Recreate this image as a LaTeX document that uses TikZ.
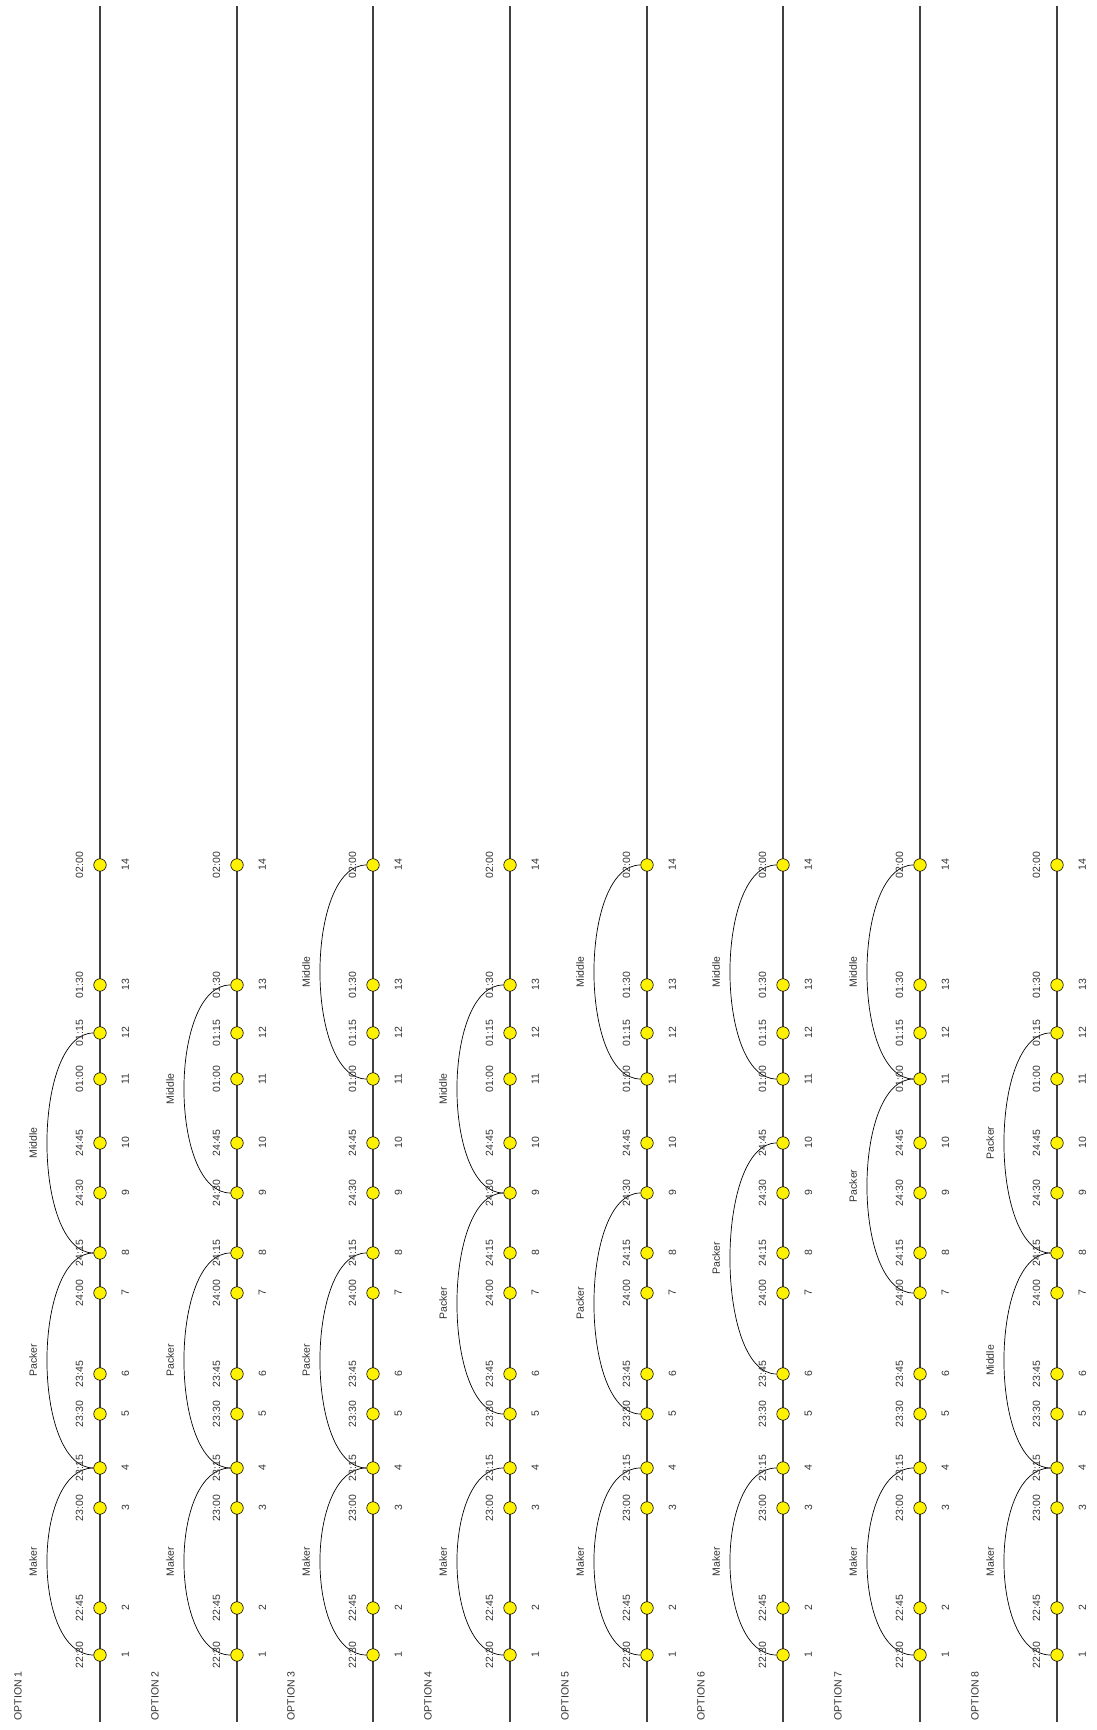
\documentclass[tikz,border=0pt]{standalone}
\usepackage{fontspec}
\setmainfont{Liberation Sans}
\usepackage{tikz}
\pgfdeclarelayer{edgelayer}
\pgfdeclarelayer{nodelayer}
\pgfsetlayers{edgelayer,nodelayer,main}
\tikzstyle{timeline}=[draw=black!75, line width=1.6pt]
\tikzstyle{taskedge}=[draw=black, line width=0.7pt, out=180, in=180, distance=62pt]
\tikzstyle{vertex}=[circle, fill=yellow, draw=black, line width=0.6pt, inner sep=0pt, minimum size=12.5pt]
\tikzstyle{timelabel}=[inner sep=0pt, label distance=10pt, font=\fontsize{10.5}{12}\selectfont, text=black!80]
\tikzstyle{numlabel}=[inner sep=0pt, label distance=15pt, font=\fontsize{10.5}{12}\selectfont, text=black!80]
\tikzstyle{tasklabel}=[rotate=90, inner sep=0pt, font=\fontsize{10.5}{12}\selectfont, text=black!80]
\tikzstyle{optionlabel}=[rotate=90, inner sep=0pt, font=\fontsize{10.5}{12}\selectfont, text=black!80]
\tikzstyle{v1}=[style=vertex, label={[style=timelabel]180:{\rotatebox{90}{22:30}}}, label={[style=numlabel]0:{\rotatebox{90}{1}}}]
\tikzstyle{v2}=[style=vertex, label={[style=timelabel]180:{\rotatebox{90}{22:45}}}, label={[style=numlabel]0:{\rotatebox{90}{2}}}]
\tikzstyle{v3}=[style=vertex, label={[style=timelabel]180:{\rotatebox{90}{23:00}}}, label={[style=numlabel]0:{\rotatebox{90}{3}}}]
\tikzstyle{v4}=[style=vertex, label={[style=timelabel]180:{\rotatebox{90}{23:15}}}, label={[style=numlabel]0:{\rotatebox{90}{4}}}]
\tikzstyle{v5}=[style=vertex, label={[style=timelabel]180:{\rotatebox{90}{23:30}}}, label={[style=numlabel]0:{\rotatebox{90}{5}}}]
\tikzstyle{v6}=[style=vertex, label={[style=timelabel]180:{\rotatebox{90}{23:45}}}, label={[style=numlabel]0:{\rotatebox{90}{6}}}]
\tikzstyle{v7}=[style=vertex, label={[style=timelabel]180:{\rotatebox{90}{24:00}}}, label={[style=numlabel]0:{\rotatebox{90}{7}}}]
\tikzstyle{v8}=[style=vertex, label={[style=timelabel]180:{\rotatebox{90}{24:15}}}, label={[style=numlabel]0:{\rotatebox{90}{8}}}]
\tikzstyle{v9}=[style=vertex, label={[style=timelabel]180:{\rotatebox{90}{24:30}}}, label={[style=numlabel]0:{\rotatebox{90}{9}}}]
\tikzstyle{v10}=[style=vertex, label={[style=timelabel]180:{\rotatebox{90}{24:45}}}, label={[style=numlabel]0:{\rotatebox{90}{10}}}]
\tikzstyle{v11}=[style=vertex, label={[style=timelabel]180:{\rotatebox{90}{01:00}}}, label={[style=numlabel]0:{\rotatebox{90}{11}}}]
\tikzstyle{v12}=[style=vertex, label={[style=timelabel]180:{\rotatebox{90}{01:15}}}, label={[style=numlabel]0:{\rotatebox{90}{12}}}]
\tikzstyle{v13}=[style=vertex, label={[style=timelabel]180:{\rotatebox{90}{01:30}}}, label={[style=numlabel]0:{\rotatebox{90}{13}}}]
\tikzstyle{v14}=[style=vertex, label={[style=timelabel]180:{\rotatebox{90}{02:00}}}, label={[style=numlabel]0:{\rotatebox{90}{14}}}]

\begin{document}
\begin{tikzpicture}[x=1pt, y=1pt]
	\useasboundingbox (0, 0) rectangle (1096, 1730);
	\begin{pgfonlayer}{nodelayer}
		% option 1
		\node [style=optionlabel] (opt1) at (18, 34) {OPTION 1};
		\node [style=v1] (1-1) at (100, 75) {};
		\node [style=v2] (1-2) at (100, 122) {};
		\node [style=v3] (1-3) at (100, 222) {};
		\node [style=v4] (1-4) at (100, 262) {};
		\node [style=v5] (1-5) at (100, 316) {};
		\node [style=v6] (1-6) at (100, 356) {};
		\node [style=v7] (1-7) at (100, 437) {};
		\node [style=v8] (1-8) at (100, 477) {};
		\node [style=v9] (1-9) at (100, 537) {};
		\node [style=v10] (1-10) at (100, 587) {};
		\node [style=v11] (1-11) at (100, 651) {};
		\node [style=v12] (1-12) at (100, 697) {};
		\node [style=v13] (1-13) at (100, 745) {};
		\node [style=v14] (1-14) at (100, 865) {};
		\node [style=tasklabel] (maker1) at (33, 168.5) {Maker};
		\node [style=tasklabel] (packer1) at (33, 369.5) {Packer};
		\node [style=tasklabel] (middle1) at (33, 587) {Middle};
		% option 2
		\node [style=optionlabel] (opt2) at (155, 34) {OPTION 2};
		\node [style=v1] (2-1) at (237, 75) {};
		\node [style=v2] (2-2) at (237, 122) {};
		\node [style=v3] (2-3) at (237, 222) {};
		\node [style=v4] (2-4) at (237, 262) {};
		\node [style=v5] (2-5) at (237, 316) {};
		\node [style=v6] (2-6) at (237, 356) {};
		\node [style=v7] (2-7) at (237, 437) {};
		\node [style=v8] (2-8) at (237, 477) {};
		\node [style=v9] (2-9) at (237, 537) {};
		\node [style=v10] (2-10) at (237, 587) {};
		\node [style=v11] (2-11) at (237, 651) {};
		\node [style=v12] (2-12) at (237, 697) {};
		\node [style=v13] (2-13) at (237, 745) {};
		\node [style=v14] (2-14) at (237, 865) {};
		\node [style=tasklabel] (maker2) at (170, 168.5) {Maker};
		\node [style=tasklabel] (packer2) at (170, 369.5) {Packer};
		\node [style=tasklabel] (middle2) at (170, 641) {Middle};
		% option 3
		\node [style=optionlabel] (opt3) at (291, 34) {OPTION 3};
		\node [style=v1] (3-1) at (373, 75) {};
		\node [style=v2] (3-2) at (373, 122) {};
		\node [style=v3] (3-3) at (373, 222) {};
		\node [style=v4] (3-4) at (373, 262) {};
		\node [style=v5] (3-5) at (373, 316) {};
		\node [style=v6] (3-6) at (373, 356) {};
		\node [style=v7] (3-7) at (373, 437) {};
		\node [style=v8] (3-8) at (373, 477) {};
		\node [style=v9] (3-9) at (373, 537) {};
		\node [style=v10] (3-10) at (373, 587) {};
		\node [style=v11] (3-11) at (373, 651) {};
		\node [style=v12] (3-12) at (373, 697) {};
		\node [style=v13] (3-13) at (373, 745) {};
		\node [style=v14] (3-14) at (373, 865) {};
		\node [style=tasklabel] (maker3) at (306, 168.5) {Maker};
		\node [style=tasklabel] (packer3) at (306, 369.5) {Packer};
		\node [style=tasklabel] (middle3) at (306, 758) {Middle};
		% option 4
		\node [style=optionlabel] (opt4) at (428, 34) {OPTION 4};
		\node [style=v1] (4-1) at (510, 75) {};
		\node [style=v2] (4-2) at (510, 122) {};
		\node [style=v3] (4-3) at (510, 222) {};
		\node [style=v4] (4-4) at (510, 262) {};
		\node [style=v5] (4-5) at (510, 316) {};
		\node [style=v6] (4-6) at (510, 356) {};
		\node [style=v7] (4-7) at (510, 437) {};
		\node [style=v8] (4-8) at (510, 477) {};
		\node [style=v9] (4-9) at (510, 537) {};
		\node [style=v10] (4-10) at (510, 587) {};
		\node [style=v11] (4-11) at (510, 651) {};
		\node [style=v12] (4-12) at (510, 697) {};
		\node [style=v13] (4-13) at (510, 745) {};
		\node [style=v14] (4-14) at (510, 865) {};
		\node [style=tasklabel] (maker4) at (443, 168.5) {Maker};
		\node [style=tasklabel] (packer4) at (443, 426.5) {Packer};
		\node [style=tasklabel] (middle4) at (443, 641) {Middle};
		% option 5
		\node [style=optionlabel] (opt5) at (565, 34) {OPTION 5};
		\node [style=v1] (5-1) at (647, 75) {};
		\node [style=v2] (5-2) at (647, 122) {};
		\node [style=v3] (5-3) at (647, 222) {};
		\node [style=v4] (5-4) at (647, 262) {};
		\node [style=v5] (5-5) at (647, 316) {};
		\node [style=v6] (5-6) at (647, 356) {};
		\node [style=v7] (5-7) at (647, 437) {};
		\node [style=v8] (5-8) at (647, 477) {};
		\node [style=v9] (5-9) at (647, 537) {};
		\node [style=v10] (5-10) at (647, 587) {};
		\node [style=v11] (5-11) at (647, 651) {};
		\node [style=v12] (5-12) at (647, 697) {};
		\node [style=v13] (5-13) at (647, 745) {};
		\node [style=v14] (5-14) at (647, 865) {};
		\node [style=tasklabel] (maker5) at (580, 168.5) {Maker};
		\node [style=tasklabel] (packer5) at (580, 426.5) {Packer};
		\node [style=tasklabel] (middle5) at (580, 758) {Middle};
		% option 6
		\node [style=optionlabel] (opt6) at (701, 34) {OPTION 6};
		\node [style=v1] (6-1) at (783, 75) {};
		\node [style=v2] (6-2) at (783, 122) {};
		\node [style=v3] (6-3) at (783, 222) {};
		\node [style=v4] (6-4) at (783, 262) {};
		\node [style=v5] (6-5) at (783, 316) {};
		\node [style=v6] (6-6) at (783, 356) {};
		\node [style=v7] (6-7) at (783, 437) {};
		\node [style=v8] (6-8) at (783, 477) {};
		\node [style=v9] (6-9) at (783, 537) {};
		\node [style=v10] (6-10) at (783, 587) {};
		\node [style=v11] (6-11) at (783, 651) {};
		\node [style=v12] (6-12) at (783, 697) {};
		\node [style=v13] (6-13) at (783, 745) {};
		\node [style=v14] (6-14) at (783, 865) {};
		\node [style=tasklabel] (maker6) at (716, 168.5) {Maker};
		\node [style=tasklabel] (packer6) at (716, 471.5) {Packer};
		\node [style=tasklabel] (middle6) at (716, 758) {Middle};
		% option 7
		\node [style=optionlabel] (opt7) at (838, 34) {OPTION 7};
		\node [style=v1] (7-1) at (920, 75) {};
		\node [style=v2] (7-2) at (920, 122) {};
		\node [style=v3] (7-3) at (920, 222) {};
		\node [style=v4] (7-4) at (920, 262) {};
		\node [style=v5] (7-5) at (920, 316) {};
		\node [style=v6] (7-6) at (920, 356) {};
		\node [style=v7] (7-7) at (920, 437) {};
		\node [style=v8] (7-8) at (920, 477) {};
		\node [style=v9] (7-9) at (920, 537) {};
		\node [style=v10] (7-10) at (920, 587) {};
		\node [style=v11] (7-11) at (920, 651) {};
		\node [style=v12] (7-12) at (920, 697) {};
		\node [style=v13] (7-13) at (920, 745) {};
		\node [style=v14] (7-14) at (920, 865) {};
		\node [style=tasklabel] (maker7) at (853, 168.5) {Maker};
		\node [style=tasklabel] (packer7) at (853, 544) {Packer};
		\node [style=tasklabel] (middle7) at (853, 758) {Middle};
		% option 8
		\node [style=optionlabel] (opt8) at (975, 34) {OPTION 8};
		\node [style=v1] (8-1) at (1057, 75) {};
		\node [style=v2] (8-2) at (1057, 122) {};
		\node [style=v3] (8-3) at (1057, 222) {};
		\node [style=v4] (8-4) at (1057, 262) {};
		\node [style=v5] (8-5) at (1057, 316) {};
		\node [style=v6] (8-6) at (1057, 356) {};
		\node [style=v7] (8-7) at (1057, 437) {};
		\node [style=v8] (8-8) at (1057, 477) {};
		\node [style=v9] (8-9) at (1057, 537) {};
		\node [style=v10] (8-10) at (1057, 587) {};
		\node [style=v11] (8-11) at (1057, 651) {};
		\node [style=v12] (8-12) at (1057, 697) {};
		\node [style=v13] (8-13) at (1057, 745) {};
		\node [style=v14] (8-14) at (1057, 865) {};
		\node [style=tasklabel] (maker8) at (990, 168.5) {Maker};
		\node [style=tasklabel] (middle8) at (990, 369.5) {Middle};
		\node [style=tasklabel] (packer8) at (990, 587) {Packer};
	\end{pgfonlayer}
	\begin{pgfonlayer}{edgelayer}
		\coordinate (bot1) at (100, 8);
		\coordinate (top1) at (100, 1724);
		\coordinate (bot2) at (237, 8);
		\coordinate (top2) at (237, 1724);
		\coordinate (bot3) at (373, 8);
		\coordinate (top3) at (373, 1724);
		\coordinate (bot4) at (510, 8);
		\coordinate (top4) at (510, 1724);
		\coordinate (bot5) at (647, 8);
		\coordinate (top5) at (647, 1724);
		\coordinate (bot6) at (783, 8);
		\coordinate (top6) at (783, 1724);
		\coordinate (bot7) at (920, 8);
		\coordinate (top7) at (920, 1724);
		\coordinate (bot8) at (1057, 8);
		\coordinate (top8) at (1057, 1724);
		\draw [style=timeline] (bot1) to (top1);
		\draw [style=timeline] (bot2) to (top2);
		\draw [style=timeline] (bot3) to (top3);
		\draw [style=timeline] (bot4) to (top4);
		\draw [style=timeline] (bot5) to (top5);
		\draw [style=timeline] (bot6) to (top6);
		\draw [style=timeline] (bot7) to (top7);
		\draw [style=timeline] (bot8) to (top8);
		\draw [style=taskedge] (1-1) to (1-4);
		\draw [style=taskedge] (1-4) to (1-8);
		\draw [style=taskedge] (1-8) to (1-12);
		\draw [style=taskedge] (2-1) to (2-4);
		\draw [style=taskedge] (2-4) to (2-8);
		\draw [style=taskedge] (2-9) to (2-13);
		\draw [style=taskedge] (3-1) to (3-4);
		\draw [style=taskedge] (3-4) to (3-8);
		\draw [style=taskedge] (3-11) to (3-14);
		\draw [style=taskedge] (4-1) to (4-4);
		\draw [style=taskedge] (4-5) to (4-9);
		\draw [style=taskedge] (4-9) to (4-13);
		\draw [style=taskedge] (5-1) to (5-4);
		\draw [style=taskedge] (5-5) to (5-9);
		\draw [style=taskedge] (5-11) to (5-14);
		\draw [style=taskedge] (6-1) to (6-4);
		\draw [style=taskedge] (6-6) to (6-10);
		\draw [style=taskedge] (6-11) to (6-14);
		\draw [style=taskedge] (7-1) to (7-4);
		\draw [style=taskedge] (7-7) to (7-11);
		\draw [style=taskedge] (7-11) to (7-14);
		\draw [style=taskedge] (8-1) to (8-4);
		\draw [style=taskedge] (8-4) to (8-8);
		\draw [style=taskedge] (8-8) to (8-12);
	\end{pgfonlayer}
\end{tikzpicture}
\end{document}
